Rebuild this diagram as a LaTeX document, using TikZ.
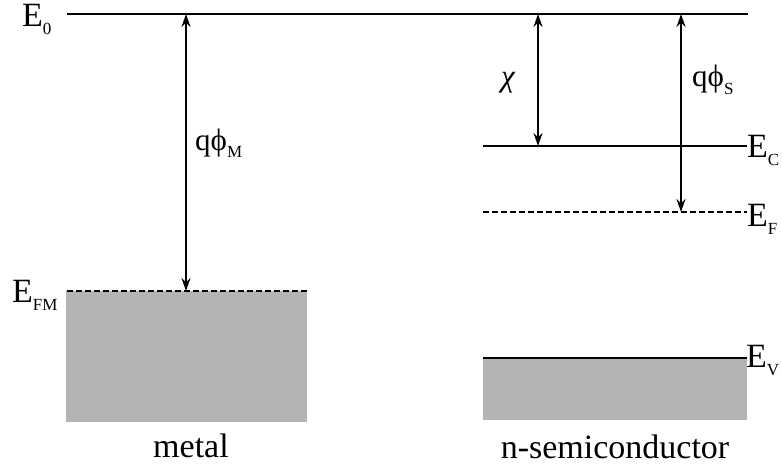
\documentclass[tikz,border=0pt]{standalone}
\usepackage{fontspec}
\setmainfont{Liberation Serif}
\usetikzlibrary{arrows.meta}
\definecolor{bandgray}{RGB}{180,180,180}
\newcommand\lsub[1]{\raisebox{-8pt}{\fontsize{17}{17}\selectfont #1}}
\tikzset{
  level/.style={line width=1.8pt},
  fermi/.style={line width=1.3pt, dash pattern=on 6pt off 3pt},
  gap/.style={line width=1.7pt, {Stealth[length=13pt,width=9pt]}-{Stealth[length=13pt,width=9pt]}},
  lbl/.style={inner sep=0pt, anchor=base west, font=\fontsize{34}{36}\selectfont},
  qlbl/.style={inner sep=0pt, anchor=base west, font=\fontsize{31}{32}\selectfont},
  caption/.style={inner sep=0pt, anchor=base, font=\fontsize{34}{36}\selectfont},
  band/.style={fill=bandgray, draw=none}
}
\begin{document}
\begin{tikzpicture}[x=1pt,y=-1pt]
\useasboundingbox (0,0) rectangle (782,468);
% bands
\fill[band] (66,291) rectangle (307,422);
\fill[band] (483,358) rectangle (747,420);
% levels
\coordinate (e0l) at (67,14);
\coordinate (e0r) at (748,14);
\draw[level] (e0l) -- (e0r);
\coordinate (efml) at (67,291);
\coordinate (efmr) at (307,291);
\draw[fermi] (efml) -- (efmr);
\coordinate (ecl) at (483,146);
\coordinate (ecr) at (747,146);
\draw[level] (ecl) -- (ecr);
\coordinate (efl) at (483,212);
\coordinate (efr) at (747,212);
\draw[fermi] (efl) -- (efr);
\coordinate (evl) at (483,358);
\coordinate (evr) at (747,358);
\draw[level] (evl) -- (evr);
% arrows
\coordinate (mtop) at (186,14);
\coordinate (mbot) at (186,291);
\draw[gap] (mtop) -- (mbot);
\coordinate (chitop) at (538,14);
\coordinate (chibot) at (538,146);
\draw[gap] (chitop) -- (chibot);
\coordinate (stop) at (681,14);
\coordinate (sbot) at (681,212);
\draw[gap] (stop) -- (sbot);
% labels
\node[lbl] (E0) at (22,27) {E\lsub{0}};
\node[lbl] (EFM) at (12,302) {E\lsub{FM}};
\node[lbl] (EC) at (747,158) {E\lsub{C}};
\node[lbl] (EF) at (747,226) {E\lsub{F}};
\node[lbl] (EV) at (746,367) {E\lsub{V}};
\node[qlbl] (qphim) at (195,150) {qϕ\lsub{M}};
\node[qlbl] (qphis) at (692,87) {qϕ\lsub{S}};
\node[qlbl] (chi) at (501,87) {\itshape χ};
\node[caption] (metal) at (191,457) {metal};
\node[caption] (semi) at (615,458) {n-semiconductor};
\end{tikzpicture}
\end{document}
